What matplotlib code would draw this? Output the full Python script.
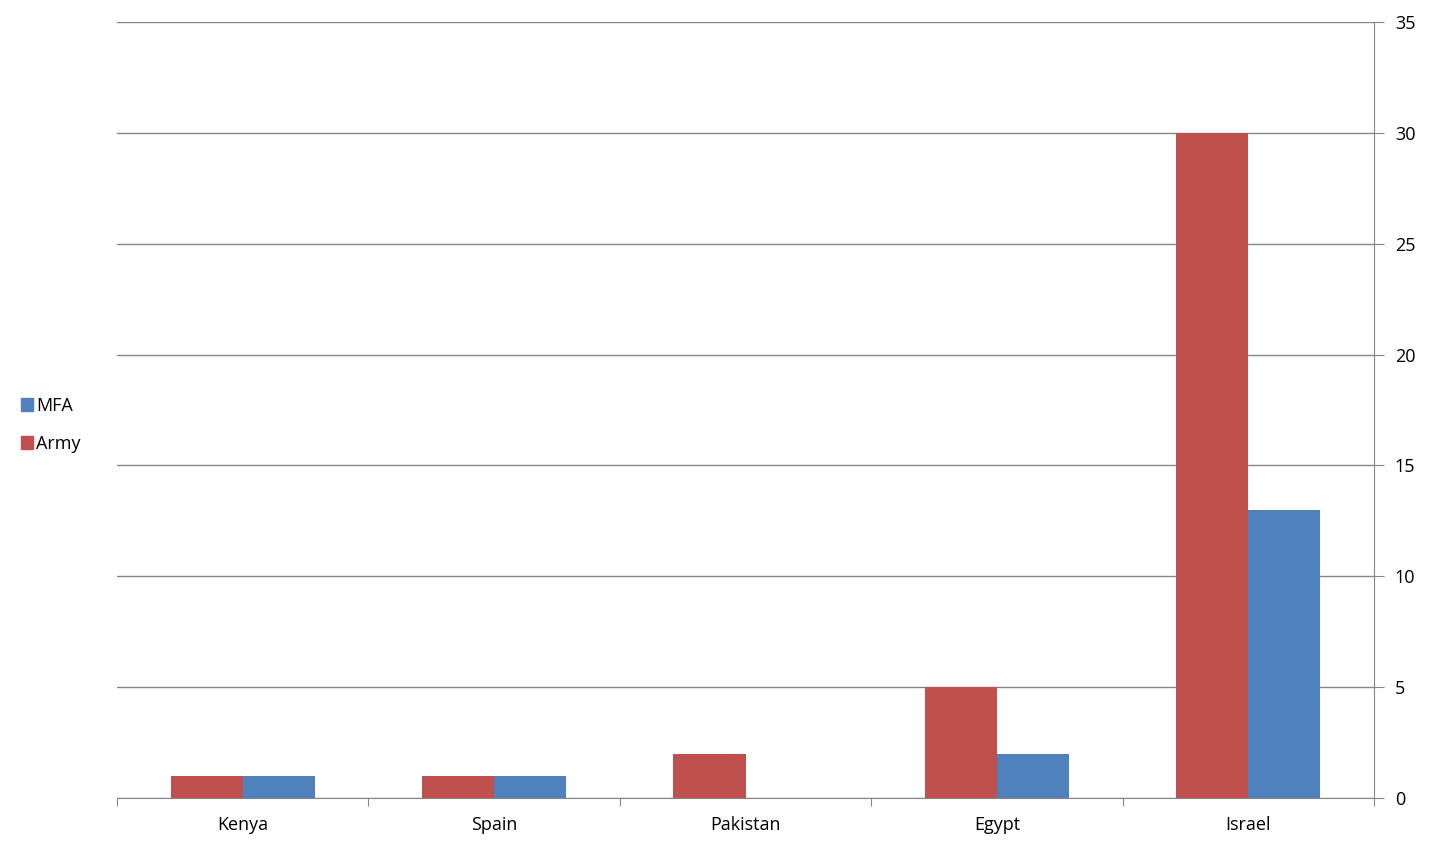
import matplotlib
matplotlib.use("Agg")
import matplotlib.pyplot as plt
from matplotlib.patches import Patch
import numpy as np

categories = ["Kenya", "Spain", "Pakistan", "Egypt", "Israel"]
army = [1, 1, 2, 5, 30]
mfa = [1, 1, 0, 2, 13]
yticks = [0, 5, 10, 15, 20, 25, 30, 35]

army_color = "#C0504D"
mfa_color = "#4F81BD"
grid_color = "#868686"

plt.rcParams['font.family'] = ['Open Sans', 'DejaVu Sans']

fig = plt.figure(figsize=(14.29, 8.5), dpi=100)
ax = fig.add_axes([117/1429, 52/850, (1374-117)/1429, (798-22)/850])

x = np.arange(len(categories))
w = 0.287
ax.bar(x - w/2, army, width=w, color=army_color, zorder=3)
ax.bar(x + w/2, mfa, width=w, color=mfa_color, zorder=3)

ax.set_xlim(-0.5, len(categories) - 0.5)
ax.set_ylim(0, 35)
ax.yaxis.tick_right()
ax.set_yticks(yticks)
ax.set_yticklabels([str(v) for v in yticks])
ax.grid(axis='y', color=grid_color, linewidth=1, zorder=0)

ax.set_xticks(np.arange(len(categories) + 1) - 0.5, minor=False)
ax.set_xticklabels([])
ax.set_xticks(x, minor=True)
ax.set_xticklabels(categories, minor=True)
ax.tick_params(axis='x', which='major', length=6, color=grid_color, direction='out')
ax.tick_params(axis='x', which='minor', length=0, pad=13, labelsize=13)
ax.tick_params(axis='y', which='major', length=7, color=grid_color, labelsize=13, pad=8, direction='out')

for s in ['top', 'left']:
    ax.spines[s].set_visible(False)
ax.spines['right'].set_color(grid_color)
ax.spines['bottom'].set_color(grid_color)

handles = [Patch(color=mfa_color, label="MFA"), Patch(color=army_color, label="Army")]
fig.legend(handles=handles, loc='center left', bbox_to_anchor=(0.003, 0.5),
           frameon=False, fontsize=13, handlelength=0.7, handleheight=0.7,
           handletextpad=0.15, labelspacing=1.1)

fig.savefig("out.png", dpi=100)
